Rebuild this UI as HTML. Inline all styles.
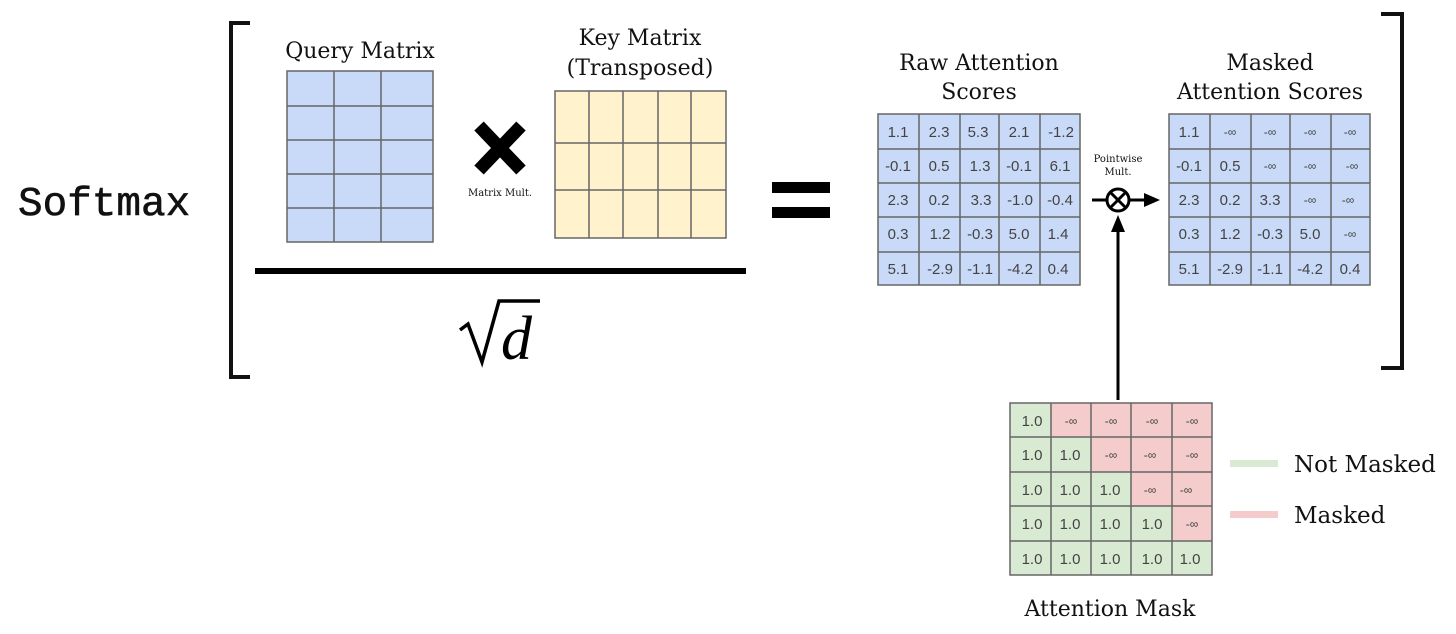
<!DOCTYPE html>
<html><head><meta charset="utf-8"><style>
html,body{margin:0;padding:0;background:#fff;}
svg{display:block}
.s{font-family:"DejaVu Serif","Liberation Serif",serif;fill:#111}
.n{font-family:"Liberation Sans",sans-serif;font-size:15px;fill:#434343;text-anchor:middle}
.i{font-family:"Liberation Sans",sans-serif;font-size:12px;fill:#434343;text-anchor:middle}
</style></head><body>
<svg width="1456" height="634" viewBox="0 0 1456 634" xmlns="http://www.w3.org/2000/svg">
<text x="18" y="215" font-family="Liberation Mono, monospace" font-size="41" fill="#111" stroke="#111" stroke-width="0.6">Softmax</text>
<path d="M250,23 H231 V377 H250" fill="none" stroke="#111" stroke-width="4"/>
<path d="M1381,14 H1402 V368 H1381" fill="none" stroke="#111" stroke-width="4"/>

<text class="s" x="360" y="58" font-size="22" text-anchor="middle">Query Matrix</text>
<text class="s" x="640" y="45" font-size="22" text-anchor="middle">Key Matrix</text>
<text class="s" x="640" y="75" font-size="22" text-anchor="middle">(Transposed)</text>

<rect x="287" y="71" width="146" height="171" fill="#c9daf8" stroke="#666" stroke-width="1.5"/>
<g stroke="#666" stroke-width="1.5">
<line x1="334" y1="71" x2="334" y2="242"/><line x1="381" y1="71" x2="381" y2="242"/>
<line x1="287" y1="106" x2="433" y2="106"/><line x1="287" y1="140" x2="433" y2="140"/>
<line x1="287" y1="174" x2="433" y2="174"/><line x1="287" y1="208" x2="433" y2="208"/>
</g>
<rect x="555" y="91" width="171" height="147" fill="#fff2cc" stroke="#666" stroke-width="1.5"/>
<g stroke="#666" stroke-width="1.5">
<line x1="589" y1="91" x2="589" y2="238"/><line x1="623" y1="91" x2="623" y2="238"/>
<line x1="658" y1="91" x2="658" y2="238"/><line x1="691" y1="91" x2="691" y2="238"/>
<line x1="555" y1="143" x2="726" y2="143"/><line x1="555" y1="190" x2="726" y2="190"/>
</g>
<path d="M479,126 L521,170 M521,126 L479,170" stroke="#000" stroke-width="13"/>
<text class="s" x="500" y="196" font-size="10" text-anchor="middle">Matrix Mult.</text>
<rect x="255" y="268" width="491" height="6" fill="#000"/>
<path d="M460,330 L468,324 L482,362 L499,301 H540" fill="none" stroke="#000" stroke-width="3.5"/>
<text x="501" y="359" font-family="Liberation Serif, serif" font-style="italic" font-size="62" fill="#000">d</text>

<rect x="772" y="182" width="58" height="11" fill="#000"/>
<rect x="772" y="207" width="58" height="11" fill="#000"/>

<text class="s" x="979" y="70" font-size="22" text-anchor="middle">Raw Attention</text>
<text class="s" x="979" y="99" font-size="22" text-anchor="middle">Scores</text>
<text class="s" x="1270" y="70" font-size="22" text-anchor="middle">Masked</text>
<text class="s" x="1270" y="99" font-size="22" text-anchor="middle">Attention Scores</text>

<rect x="878" y="114" width="202" height="171" fill="#c9daf8" stroke="#666" stroke-width="1.5"/>
<g stroke="#666" stroke-width="1.5">
<line x1="919" y1="114" x2="919" y2="285"/><line x1="960" y1="114" x2="960" y2="285"/>
<line x1="999" y1="114" x2="999" y2="285"/><line x1="1040" y1="114" x2="1040" y2="285"/>
<line x1="878" y1="149" x2="1080" y2="149"/><line x1="878" y1="183" x2="1080" y2="183"/>
<line x1="878" y1="217" x2="1080" y2="217"/><line x1="878" y1="252" x2="1080" y2="252"/>
</g>
<g class="n">
<text x="898" y="137">1.1</text><text x="939" y="137">2.3</text><text x="978" y="137">5.3</text><text x="1019" y="137">2.1</text><text x="1061" y="137">-1.2</text>
<text x="898" y="171">-0.1</text><text x="939" y="171">0.5</text><text x="980" y="171">1.3</text><text x="1019" y="171">-0.1</text><text x="1060" y="171">6.1</text>
<text x="898" y="205">2.3</text><text x="939" y="205">0.2</text><text x="981" y="205">3.3</text><text x="1020" y="205">-1.0</text><text x="1060" y="205">-0.4</text>
<text x="898" y="239">0.3</text><text x="940" y="239">1.2</text><text x="980" y="239">-0.3</text><text x="1019" y="239">5.0</text><text x="1058" y="239">1.4</text>
<text x="898" y="274">5.1</text><text x="940" y="274">-2.9</text><text x="980" y="274">-1.1</text><text x="1020" y="274">-4.2</text><text x="1058" y="274">0.4</text>
</g>

<rect x="1169" y="114" width="201" height="171" fill="#c9daf8" stroke="#666" stroke-width="1.5"/>
<g stroke="#666" stroke-width="1.5">
<line x1="1210" y1="114" x2="1210" y2="285"/><line x1="1251" y1="114" x2="1251" y2="285"/>
<line x1="1290" y1="114" x2="1290" y2="285"/><line x1="1331" y1="114" x2="1331" y2="285"/>
<line x1="1169" y1="149" x2="1370" y2="149"/><line x1="1169" y1="183" x2="1370" y2="183"/>
<line x1="1169" y1="217" x2="1370" y2="217"/><line x1="1169" y1="252" x2="1370" y2="252"/>
</g>
<g class="n">
<text x="1189" y="137">1.1</text>
<text x="1189" y="171">-0.1</text><text x="1230" y="171">0.5</text>
<text x="1189" y="205">2.3</text><text x="1230" y="205">0.2</text><text x="1270" y="205">3.3</text>
<text x="1189" y="239">0.3</text><text x="1230" y="239">1.2</text><text x="1270" y="239">-0.3</text><text x="1310" y="239">5.0</text>
<text x="1189" y="274">5.1</text><text x="1230" y="274">-2.9</text><text x="1270" y="274">-1.1</text><text x="1310" y="274">-4.2</text><text x="1350" y="274">0.4</text>
</g>
<g class="i">
<text x="1230" y="136">-∞</text><text x="1270" y="136">-∞</text><text x="1310" y="136">-∞</text><text x="1350" y="136">-∞</text>
<text x="1270" y="170">-∞</text><text x="1310" y="170">-∞</text><text x="1352" y="170">-∞</text>
<text x="1310" y="204">-∞</text><text x="1348" y="204">-∞</text>
<text x="1350" y="238">-∞</text>
</g>

<text class="s" x="1118" y="162" font-size="10" text-anchor="middle">Pointwise</text>
<text class="s" x="1118" y="175" font-size="10" text-anchor="middle">Mult.</text>
<line x1="1092" y1="200" x2="1107" y2="200" stroke="#000" stroke-width="3"/>
<circle cx="1118" cy="200" r="11" fill="#fff" stroke="#000" stroke-width="3"/>
<path d="M1110,192 L1126,208 M1126,192 L1110,208" stroke="#000" stroke-width="3"/>
<line x1="1129" y1="200" x2="1146" y2="200" stroke="#000" stroke-width="3"/>
<polygon points="1144,193 1160,200 1144,207" fill="#000"/>
<line x1="1118" y1="400" x2="1118" y2="230" stroke="#000" stroke-width="3"/>
<polygon points="1111,232 1118,215 1125,232" fill="#000"/>

<rect x="1010" y="403" width="202" height="172" fill="#d9ead3"/>
<g fill="#f4cccc">
<rect x="1051" y="403" width="161" height="34"/>
<rect x="1091" y="437" width="121" height="35"/>
<rect x="1131" y="472" width="81" height="34"/>
<rect x="1172" y="506" width="40" height="35"/>
</g>
<g stroke="#666" stroke-width="1.5" fill="none">
<rect x="1010" y="403" width="202" height="172"/>
<line x1="1051" y1="403" x2="1051" y2="575"/><line x1="1091" y1="403" x2="1091" y2="575"/>
<line x1="1131" y1="403" x2="1131" y2="575"/><line x1="1172" y1="403" x2="1172" y2="575"/>
<line x1="1010" y1="437" x2="1212" y2="437"/><line x1="1010" y1="472" x2="1212" y2="472"/>
<line x1="1010" y1="506" x2="1212" y2="506"/><line x1="1010" y1="541" x2="1212" y2="541"/>
</g>
<g class="n">
<text x="1032" y="426">1.0</text>
<text x="1032" y="460">1.0</text><text x="1070" y="460">1.0</text>
<text x="1032" y="495">1.0</text><text x="1070" y="495">1.0</text><text x="1110" y="495">1.0</text>
<text x="1032" y="529">1.0</text><text x="1070" y="529">1.0</text><text x="1110" y="529">1.0</text><text x="1152" y="529">1.0</text>
<text x="1032" y="564">1.0</text><text x="1070" y="564">1.0</text><text x="1110" y="564">1.0</text><text x="1152" y="564">1.0</text><text x="1190" y="564">1.0</text>
</g>
<g class="i">
<text x="1071" y="425">-∞</text><text x="1111" y="425">-∞</text><text x="1152" y="425">-∞</text><text x="1192" y="425">-∞</text>
<text x="1111" y="459">-∞</text><text x="1150" y="459">-∞</text><text x="1192" y="459">-∞</text>
<text x="1150" y="494">-∞</text><text x="1186" y="494">-∞</text>
<text x="1192" y="528">-∞</text>
</g>
<text class="s" x="1110" y="616" font-size="22" text-anchor="middle">Attention Mask</text>

<rect x="1230" y="460" width="48" height="7" fill="#d9ead3"/>
<rect x="1230" y="511" width="48" height="7" fill="#f4cccc"/>
<text class="s" x="1294" y="472" font-size="23">Not Masked</text>
<text class="s" x="1294" y="523" font-size="23">Masked</text>
</svg>
</body></html>
